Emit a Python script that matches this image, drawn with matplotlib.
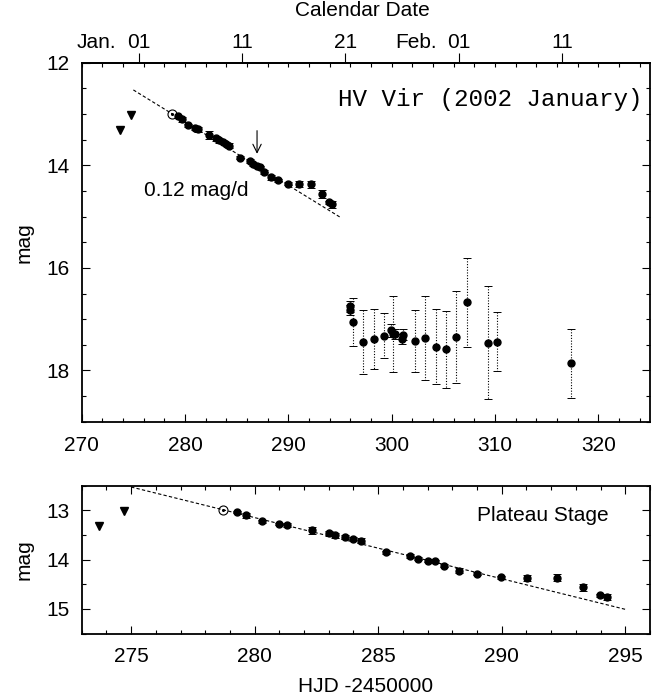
import numpy as np
import matplotlib
matplotlib.use("Agg")
import matplotlib.pyplot as plt
from matplotlib.ticker import MultipleLocator

plt.rcParams['font.family'] = ['Liberation Sans', 'DejaVu Sans']
plt.rcParams['font.size'] = 15

# plateau-stage photometry (HJD-2450000, mag, error)
plat_t = [279.30, 279.66, 280.28, 280.98, 281.29, 282.33, 283.00, 283.27, 283.67,
          283.97, 284.29, 285.32, 286.29, 286.60, 287.00, 287.30, 287.67, 288.29,
          289.00, 289.97, 291.02, 292.24, 293.27, 293.96, 294.24]
plat_m = [13.03, 13.10, 13.22, 13.28, 13.30, 13.41, 13.47, 13.51, 13.55,
          13.58, 13.62, 13.85, 13.92, 13.98, 14.02, 14.04, 14.13, 14.23,
          14.29, 14.36, 14.37, 14.37, 14.56, 14.72, 14.76]
plat_e = [0.02, 0.05, 0.03, 0.03, 0.05, 0.07, 0.05, 0.05, 0.04,
          0.03, 0.05, 0.03, 0.04, 0.03, 0.03, 0.03, 0.03, 0.05,
          0.03, 0.03, 0.06, 0.07, 0.07, 0.03, 0.07]

# faint late-time points
late_t = [295.94, 296.00, 296.29, 297.26, 298.26, 299.26, 299.97, 300.10, 300.29,
          300.97, 301.06, 302.29, 303.26, 304.29, 305.29, 306.26, 307.26, 309.29,
          310.15, 317.34]
late_m = [16.75, 16.82, 17.06, 17.44, 17.39, 17.32, 17.22, 17.29, 17.29,
          17.38, 17.30, 17.43, 17.36, 17.54, 17.59, 17.35, 16.67, 17.46,
          17.44, 17.86]
late_e = [0.11, 0.10, 0.47, 0.62, 0.59, 0.44, 0.12, 0.75, 0.10,
          0.10, 0.10, 0.60, 0.82, 0.73, 0.75, 0.90, 0.87, 1.10,
          0.58, 0.67]

# upper limits and discovery point
lim_t = [273.72, 274.73]
lim_m = [13.32, 13.02]
disc_t = [278.73]
disc_m = [13.00]

# linear decline fit
fit_t0, fit_m0, fit_slope = 275.0, 12.53, 0.124
fit_range = [275.0, 295.0]

# calendar dates on the top axis
cal_pos = [275.5, 285.5, 295.5, 306.5, 316.5]
cal_labels = ['01', '11', '21', '01', '11']
month_pos = [275.5, 306.5]
month_names = ['Jan.', 'Feb.']
month_shift = [-16, -15.5]   # points left of the tick


def errbars(ax, t, m, e):
    eb = ax.errorbar(t, m, yerr=e, fmt='none', ecolor='k', elinewidth=0.8,
                     capsize=3, capthick=0.7)
    for ln in eb[2]:
        ln.set_linestyle((0, (1, 1.5)))
    ax.plot(t, m, 'o', color='k', ms=5, zorder=3)


def draw_common(ax):
    errbars(ax, plat_t, plat_m, plat_e)
    ax.plot(lim_t, lim_m, 'v', color='k', ms=5.5)
    ax.plot(disc_t, disc_m, 'o', mfc='white', mec='k', ms=6.5, mew=0.8)
    ax.plot(disc_t, disc_m, 'o', color='k', ms=1.2)
    ft = np.array(fit_range)
    ax.plot(ft, fit_m0 + fit_slope * (ft - fit_t0), '--', color='k', lw=0.8,
            dashes=(3, 2))


fig = plt.figure(figsize=(6.53, 6.98), dpi=100)
ax1 = fig.add_axes([0.1251, 0.3958, 0.8703, 0.5143])
ax2 = fig.add_axes([0.1251, 0.0924, 0.8703, 0.2120])

# ---- top panel
draw_common(ax1)
errbars(ax1, late_t, late_m, late_e)
ax1.annotate('', xy=(286.97, 13.83), xytext=(286.97, 13.27),
             arrowprops=dict(arrowstyle='->', lw=0.8, color='k'))
ax1.text(281.1, 14.49, '0.12 mag/d', ha='center', va='center')
ax1.text(0.987, 0.897, 'HV Vir (2002 January)', transform=ax1.transAxes,
         ha='right', va='center', fontsize=17.5, family='Liberation Mono')
ax1.set_xlim(270, 325)
ax1.set_ylim(19, 12)
ax1.xaxis.set_major_locator(MultipleLocator(10))
ax1.xaxis.set_minor_locator(MultipleLocator(2))
ax1.yaxis.set_major_locator(MultipleLocator(2))
ax1.yaxis.set_minor_locator(MultipleLocator(0.5))
ax1.tick_params(which='both', direction='in', right=True, top=False)
ax1.tick_params(which='major', length=6, width=0.8)
ax1.tick_params(which='minor', length=3, width=0.8)
ax1.tick_params(axis='x', pad=10)
ax1.tick_params(axis='y', pad=9)
ax1.set_ylabel('mag')
ax1.yaxis.set_label_coords(-0.085, 0.5)

sec = ax1.secondary_xaxis('top')
sec.set_xticks(cal_pos, labels=cal_labels)
sec.xaxis.set_minor_locator(MultipleLocator(2))
sec.tick_params(which='major', direction='out', length=7, width=0.8, pad=0.5)
sec.tick_params(which='minor', direction='in', length=3, width=0.8)
for mp, mn, dx in zip(month_pos, month_names, month_shift):
    ax1.annotate(mn, xy=(mp, 1.0), xycoords=ax1.get_xaxis_transform(),
                 xytext=(dx, 7.5), textcoords='offset points',
                 ha='right', va='bottom')
fig.text(362 / 653, 1 - 11 / 698, 'Calendar Date', ha='center', va='center')

# ---- bottom panel
draw_common(ax2)
ax2.text(0.928, 0.80, 'Plateau Stage', transform=ax2.transAxes,
         ha='right', va='center')
ax2.set_xlim(273, 296)
ax2.set_ylim(15.5, 12.5)
ax2.xaxis.set_major_locator(MultipleLocator(5))
ax2.xaxis.set_minor_locator(MultipleLocator(1))
ax2.yaxis.set_major_locator(MultipleLocator(1))
ax2.yaxis.set_minor_locator(MultipleLocator(0.5))
ax2.tick_params(which='both', direction='in', right=True, top=True)
ax2.tick_params(which='major', length=6, width=0.8)
ax2.tick_params(which='minor', length=3, width=0.8)
ax2.tick_params(axis='x', pad=10)
ax2.tick_params(axis='y', pad=9)
ax2.set_ylabel('mag')
ax2.yaxis.set_label_coords(-0.085, 0.5)
fig.text(366 / 653, 1 - 686.5 / 698, 'HJD -2450000', ha='center', va='center')

for ax in (ax1, ax2):
    for sp in ax.spines.values():
        sp.set_linewidth(1.3)
sec.spines['top'].set_linewidth(1.3)

fig.savefig('out.png', dpi=100)
